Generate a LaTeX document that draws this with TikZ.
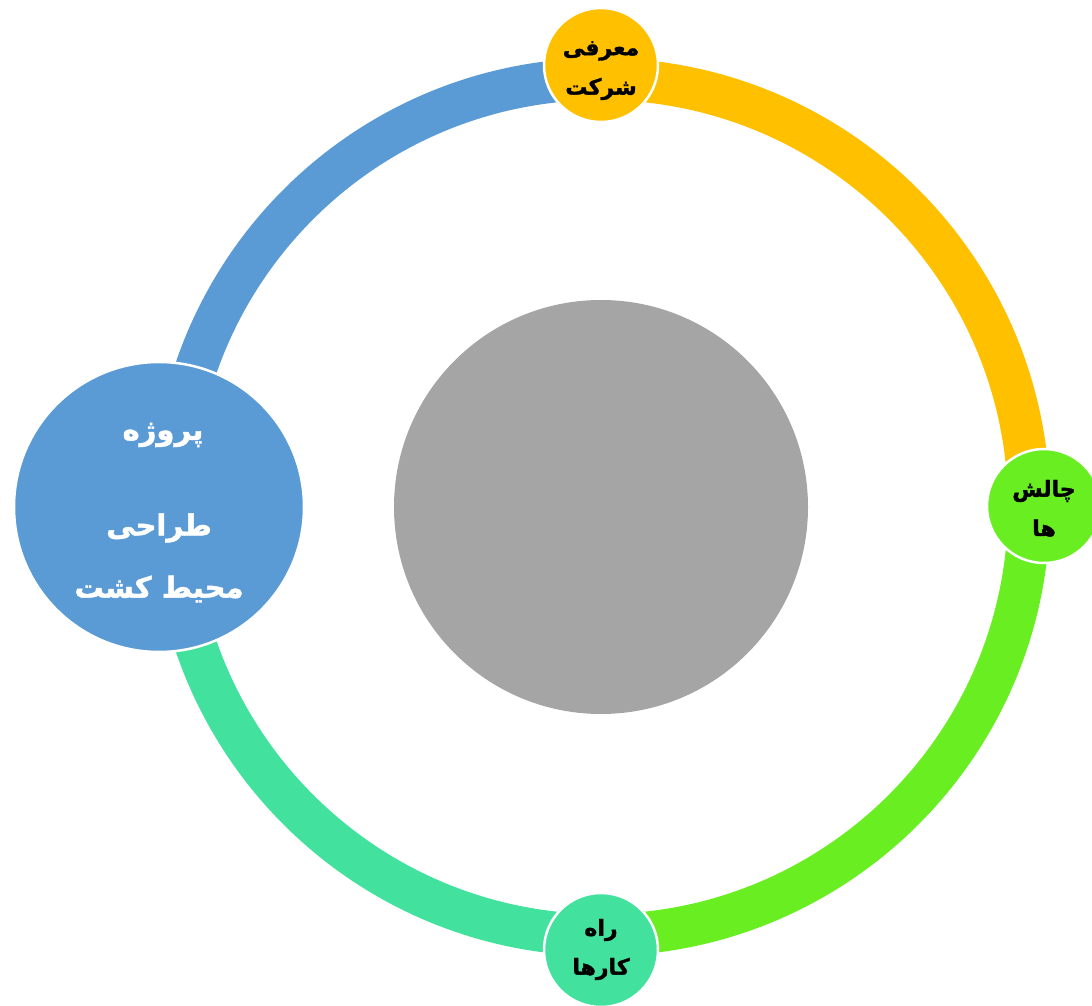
\documentclass[tikz,border=0pt]{standalone}
\usepackage{fontspec}
\TeXXeTstate=1
\newfontfamily\arfont[Script=Arabic,FakeBold=1.6]{DejaVu Sans}
\definecolor{cblue}{HTML}{5B9BD5}
\definecolor{corange}{HTML}{FFC000}
\definecolor{cgreen}{HTML}{69EE22}
\definecolor{cteal}{HTML}{42E29E}
\definecolor{cgray}{HTML}{A5A5A5}
\begin{document}
\begin{tikzpicture}[x=1pt,y=1pt,
  ring/.style={line width=42pt, line cap=butt},
  smallc/.style={circle, draw=white, line width=2.5pt, minimum size=114pt, inner sep=0pt},
  bigc/.style={circle, draw=white, line width=2.5pt, minimum size=290pt, inner sep=0pt},
  lbl/.style={font=\arfont\bfseries\fontsize{22}{24}\selectfont, text=black, inner sep=0pt},
  biglbl/.style={font=\arfont\bfseries\fontsize{29}{30}\selectfont, text=white, inner sep=0pt}]
\useasboundingbox (0,0) rectangle (1092,1005);
\coordinate (c) at (601,498);
% ring segments
\draw[ring, corange] (601,926) arc[start angle=90, end angle=0, radius=428];
\draw[ring, cgreen] (1029,498) arc[start angle=0, end angle=-90, radius=428];
\draw[ring, cteal] (601,70) arc[start angle=270, end angle=180, radius=428];
\draw[ring, cblue] (173,498) arc[start angle=180, end angle=90, radius=428];
% centre
\node[circle, fill=cgray, minimum size=414pt, inner sep=0pt] (center) at (c) {};
% circles
\node[smallc, fill=corange] (top) at (601,940) {};
\node[smallc, fill=cgreen] (right) at (1044,499) {};
\node[smallc, fill=cteal] (bottom) at (601,55) {};
\node[bigc, fill=cblue] (left) at (159,498) {};
% labels
\node[lbl] (t1) at (601,954) {\beginR معرفی\endR};
\node[lbl] (t2) at (601,916) {\beginR شرکت\endR};
\node[lbl] (r1) at (1044,514) {\beginR چالش\endR};
\node[lbl] (r2) at (1044,477) {\beginR ها\endR};
\node[lbl] (b1) at (601,75) {\beginR راه\endR};
\node[lbl] (b2) at (601,36) {\beginR کارها\endR};
\node[biglbl] (l1) at (163,570) {\beginR پروژه\endR};
\node[biglbl] (l2) at (159,477) {\beginR طراحی\endR};
\node[biglbl] (l3) at (159,416) {\beginR محیط کشت\endR};
\end{tikzpicture}
\end{document}
